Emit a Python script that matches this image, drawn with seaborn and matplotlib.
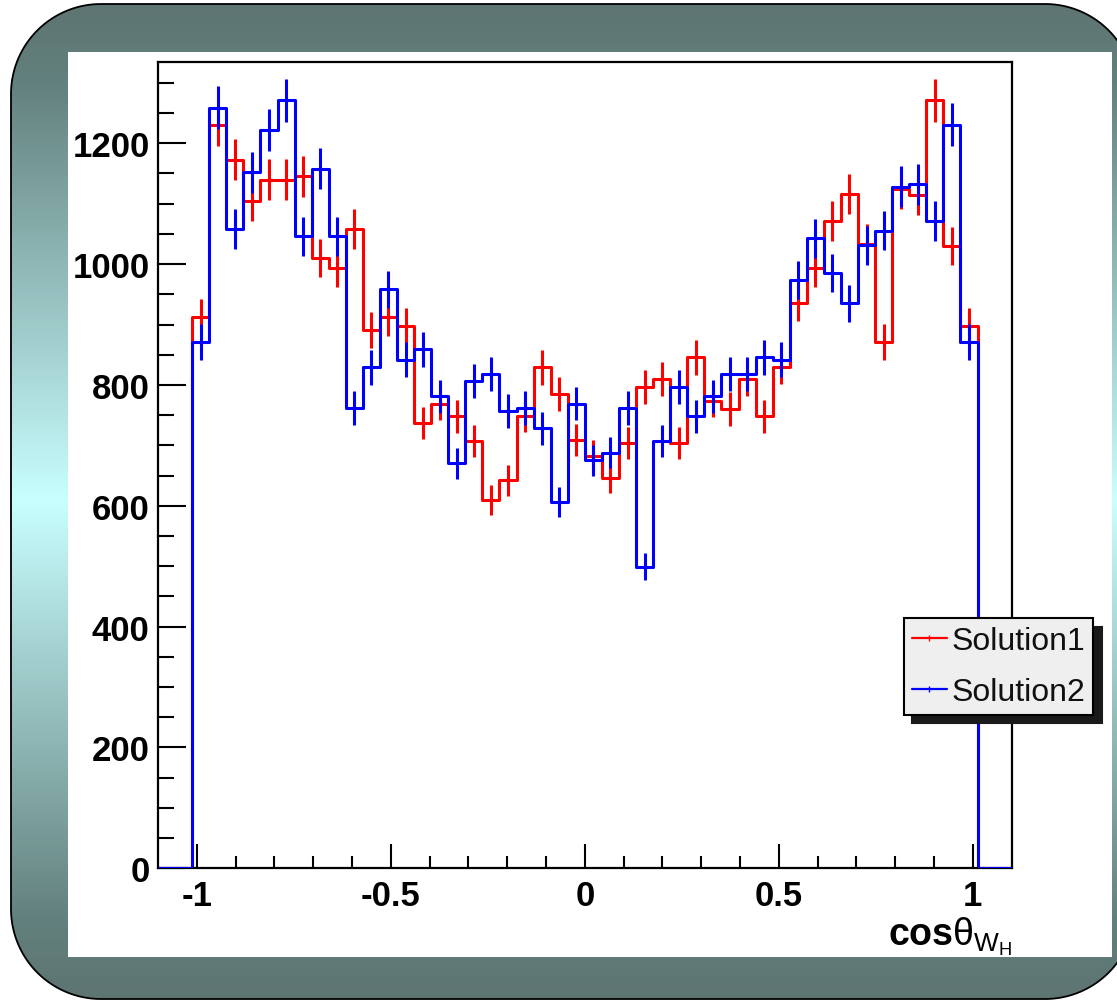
import numpy as np
import pandas as pd
import matplotlib
matplotlib.use("Agg")
import matplotlib.pyplot as plt
import seaborn as sns
from matplotlib.patches import PathPatch, Rectangle
from matplotlib.path import Path
from matplotlib.colors import LinearSegmentedColormap
from matplotlib.lines import Line2D
from matplotlib.ticker import MultipleLocator, FixedLocator

# ---------------- data ----------------
solution1 = [912, 1230, 1173, 1104, 1140, 1140, 1145, 1010, 993, 1058,
             891, 912, 897, 737, 769, 748, 707, 609, 642, 749,
             829, 785, 709, 683, 646, 704, 797, 810, 704, 846,
             774, 760, 810, 748, 830, 936, 993, 1071, 1116, 1034,
             871, 1125, 1115, 1271, 1030, 897]
solution2 = [871, 1259, 1058, 1152, 1222, 1271, 1046, 1158, 1046, 762,
             829, 958, 842, 859, 781, 670, 806, 818, 757, 762,
             728, 606, 769, 675, 688, 762, 499, 707, 797, 748,
             781, 818, 818, 846, 842, 974, 1043, 985, 935, 1031,
             1055, 1128, 1132, 1071, 1231, 871]
series_names = ["Solution1", "Solution2"]
series_colors = ["#ff0000", "#0000ff"]
x_ticks = [-1, -0.5, 0, 0.5, 1]
x_tick_labels = ["-1", "-0.5", "0", "0.5", "1"]
y_ticks = [0, 200, 400, 600, 800, 1000, 1200]
y_tick_labels = ["0", "200", "400", "600", "800", "1000", "1200"]
x_label = r"$\mathrm{cos}\theta_{W_H}$"

# ---------------- binning ----------------
n_bins = len(solution1)
edges = np.linspace(-1.012, 1.012, n_bins + 1)
centers = 0.5 * (edges[:-1] + edges[1:])

sns.set_theme(style="white")
plt.rcParams['font.family'] = ['Liberation Sans', 'DejaVu Sans']
plt.rcParams['axes.unicode_minus'] = False
plt.rcParams['mathtext.fontset'] = 'custom'
plt.rcParams['mathtext.rm'] = 'Liberation Sans:bold'
plt.rcParams['mathtext.it'] = 'Liberation Sans'
plt.rcParams['mathtext.bf'] = 'Liberation Sans:bold'
plt.rcParams['mathtext.default'] = 'it'

W, H = 1117, 1003
fig = plt.figure(figsize=(W / 100, H / 100), dpi=100, facecolor='white')

# ---------------- slide-like background (pixel coords, y down) ----------------
bg = fig.add_axes([0, 0, 1, 1], zorder=-10)
bg.set_xlim(0, W)
bg.set_ylim(H, 0)
bg.axis('off')


def rounded_rect_path(x0, y0, x1, y1, r, n=40):
    pts = []
    corners = [((x1 - r, y0 + r), -90, 0), ((x1 - r, y1 - r), 0, 90),
               ((x0 + r, y1 - r), 90, 180), ((x0 + r, y0 + r), 180, 270)]
    for (cx, cy), a0, a1 in corners:
        t = np.radians(np.linspace(a0, a1, n))
        pts.extend(zip(cx + r * np.cos(t), cy + r * np.sin(t)))
    pts.append(pts[0])
    return Path(np.array(pts), closed=True)


frame_path = rounded_rect_path(11, 5, 1135, 1000, 90)
cmap = LinearSegmentedColormap.from_list(
    'slide', [(0.0, '#5e7471'), (0.08, '#62807d'), (0.5, '#c9ffff'),
              (0.92, '#62807d'), (1.0, '#5e7471')])
grad = np.linspace(0, 1, 512).reshape(-1, 1)
im = bg.imshow(grad, cmap=cmap, extent=(0, W, H, 0), aspect='auto',
               interpolation='bilinear')
clip_patch = PathPatch(frame_path, facecolor='none', edgecolor='none',
                       transform=bg.transData)
im.set_clip_path(clip_patch)
bg.add_patch(PathPatch(frame_path, facecolor='none', edgecolor='black',
                       linewidth=1.3))
bg.add_patch(Rectangle((68.3, 53.3), 1043.4, 904.7, facecolor='white',
                       edgecolor='none'))

# ---------------- main axes ----------------
ax = fig.add_axes([158 / W, 1 - 869.3 / H, (1011.7 - 158) / W,
                   (869.3 - 62.7) / H])
ax.set_facecolor('white')

for name, vals, col in zip(series_names, [solution1, solution2], series_colors):
    df = pd.DataFrame({"x": centers, "count": np.asarray(vals, dtype=float)})
    sns.histplot(data=df, x="x", weights="count", bins=list(edges),
                 element='step', fill=False, color=col, linewidth=2.2, ax=ax)
    # outer edges of the histogram down to zero, and the empty range at 0
    ax.vlines([edges[0], edges[-1]], 0, [df["count"].iloc[0], df["count"].iloc[-1]],
              color=col, linewidth=2.2)
    ax.hlines([0, 0], [-1.1, edges[-1]], [edges[0], 1.1], color=col,
              linewidth=2.2, zorder=3)
    ax.errorbar(df["x"], df["count"], yerr=np.sqrt(df["count"]), fmt='none',
                ecolor=col, elinewidth=2.2, capsize=0)

ax.set_xlim(-1.1, 1.1)
ax.set_ylim(0, 1335)
ax.set_ylabel('')

ax.set_xticks(x_ticks, labels=x_tick_labels, fontweight='bold', fontsize=25)
ax.set_yticks(y_ticks, labels=y_tick_labels, fontweight='bold', fontsize=25)
ax.xaxis.set_minor_locator(FixedLocator(np.round(np.arange(-10, 11) / 10, 2)))
ax.yaxis.set_minor_locator(MultipleLocator(50))
ax.tick_params(which='both', direction='in', top=False, right=False,
               bottom=True, left=True, width=1.5, color='black',
               labelcolor='black')
ax.tick_params(axis='y', which='major', length=20, pad=6)
ax.tick_params(axis='y', which='minor', length=11.5)
ax.tick_params(axis='x', which='major', length=17, pad=8)
ax.tick_params(axis='x', which='minor', length=8.5)
for s in ax.spines.values():
    s.set_visible(True)
    s.set_color('black')
    s.set_linewidth(1.6)

ax.set_xlabel(x_label, loc='right', fontsize=27, labelpad=1, color='black')

handles = [Line2D([], [], color=c, lw=1.6, marker='|', markersize=4,
                  markeredgewidth=1.0) for c in series_colors]
leg = ax.legend(handles, series_names, loc='upper left',
                bbox_to_anchor=(0.874, 0.310), bbox_transform=ax.transAxes,
                borderaxespad=0, frameon=True, fancybox=False,
                facecolor='#efefef', edgecolor='black', framealpha=1,
                fontsize=23, handlelength=1.1, handletextpad=0.15,
                borderpad=0.24, labelspacing=0.67, labelcolor='#111111',
                shadow={'ox': 6, 'oy': -6, 'facecolor': '#1a1a1a',
                        'edgecolor': '#1a1a1a', 'alpha': 1})
leg.get_frame().set_linewidth(1.5)

fig.savefig('out.png', dpi=100, facecolor='white')
